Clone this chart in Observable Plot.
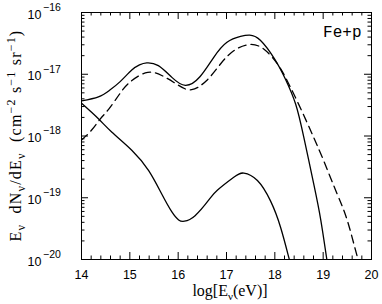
<!DOCTYPE html>
<html>
<head>
<meta charset="utf-8">
<script src="https://cdn.jsdelivr.net/npm/d3@7"></script>
<script src="https://cdn.jsdelivr.net/npm/@observablehq/plot@0.6"></script>
<style>
  html, body { margin: 0; padding: 0; background: #fff; }
</style>
</head>
<body>
<div id="chart"></div>
<script>
// ---- data ----
// upper solid curve (total)
const logE_total = [14.0, 14.35, 14.58, 14.8, 15.04, 15.2, 15.35, 15.59, 15.87, 16.15, 16.45, 16.74, 17.01, 17.29, 17.48, 17.70, 18.0, 18.22, 18.43, 18.60, 18.81, 18.95, 19.08];
const flux_total = [3.7e-18, 4.3e-18, 5.5e-18, 7.6e-18, 1.17e-17, 1.42e-17, 1.53e-17, 1.38e-17, 8.9e-18, 6.6e-18, 9.1e-18, 1.9e-17, 3.3e-17, 4.1e-17, 4.3e-17, 3.55e-17, 1.74e-17, 8.3e-18, 3.3e-18, 9.5e-19, 1.6e-19, 4.4e-20, 9.5e-21];

// dashed curve
const logE_dashed = [14.0, 14.21, 14.39, 14.56, 14.77, 14.97, 15.32, 15.66, 16.01, 16.28, 16.59, 16.88, 17.15, 17.46, 17.77, 18.05, 18.22, 18.46, 18.74, 19.01, 19.29, 19.50, 19.69, 19.76];
const flux_dashed = [8.6e-19, 1.25e-18, 1.9e-18, 2.7e-18, 4.57e-18, 7.08e-18, 1.05e-17, 9.55e-18, 6.6e-18, 5.62e-18, 7.94e-18, 1.48e-17, 2.4e-17, 3.02e-17, 2.57e-17, 1.48e-17, 8.9e-18, 3.7e-18, 1.23e-18, 3.98e-19, 1.15e-19, 4.27e-20, 1.23e-20, 8.5e-21];

// lower solid curve
const logE_lower = [14.0, 14.35, 14.63, 15.04, 15.39, 15.66, 15.87, 16.01, 16.13, 16.35, 16.63, 16.81, 17.15, 17.36, 17.64, 17.91, 18.12, 18.29, 18.32];
const flux_lower = [3.39e-18, 1.9e-18, 1.15e-18, 5.89e-19, 2.75e-19, 1.15e-19, 5.89e-20, 4.37e-20, 4.17e-20, 5.13e-20, 9.12e-20, 1.32e-19, 2.14e-19, 2.51e-19, 1.9e-19, 8.9e-20, 3.3e-20, 1.07e-20, 9e-21];

// ticks
const xMajor = [14, 15, 16, 17, 18, 19, 20];
const xMinor = [14.2, 14.4, 14.6, 14.8, 15.2, 15.4, 15.6, 15.8, 16.2, 16.4, 16.6, 16.8, 17.2, 17.4, 17.6, 17.8, 18.2, 18.4, 18.6, 18.8, 19.2, 19.4, 19.6, 19.8];
const yExponents = [-20, -19, -18, -17, -16];
const yMantissas = [2, 3, 4, 5, 6, 7, 8, 9];
const annotation = "Fe+p";

// ---- build ----
const toRows = (xs, ys) => xs.map((x, i) => ({x, y: ys[i]}));
const total = toRows(logE_total, flux_total);
const dashed = toRows(logE_dashed, flux_dashed);
const lower = toRows(logE_lower, flux_lower);
const yMajor = yExponents.map(e => 10 ** e);
const yMinor = yExponents.slice(0, -1).flatMap(e => yMantissas.map(m => m * 10 ** e));

const W = 382, H = 304, mL = 81, mR = 11, mT = 12, mB = 45;
const innerW = W - mL - mR, innerH = H - mT - mB;
const majorLen = 7, minorLen = 3.5;

const lineStyle = {x: "x", y: "y", curve: "natural", stroke: "#000", strokeWidth: 1.3, clip: true};

const svg = Plot.plot({
  width: W, height: H,
  marginLeft: mL, marginRight: mR, marginTop: mT, marginBottom: mB,
  style: {fontFamily: "'Liberation Sans', Arial, sans-serif", fontSize: "12px", color: "#000", background: "#fff"},
  x: {domain: [14, 20], axis: null},
  y: {type: "log", domain: [1e-20, 1e-16], axis: null},
  marks: [
    Plot.line(total, lineStyle),
    Plot.line(lower, lineStyle),
    Plot.line(dashed, {...lineStyle, strokeDasharray: "8,5"}),
    // ticks (inward, all four sides)
    Plot.tickX(xMajor, {x: d => d, insetTop: innerH - majorLen, stroke: "#000"}),
    Plot.tickX(xMinor, {x: d => d, insetTop: innerH - minorLen, stroke: "#000"}),
    Plot.tickX(xMajor, {x: d => d, insetBottom: innerH - majorLen, stroke: "#000"}),
    Plot.tickX(xMinor, {x: d => d, insetBottom: innerH - minorLen, stroke: "#000"}),
    Plot.tickY(yMajor, {y: d => d, insetRight: innerW - majorLen, stroke: "#000"}),
    Plot.tickY(yMinor, {y: d => d, insetRight: innerW - minorLen, stroke: "#000"}),
    Plot.tickY(yMajor, {y: d => d, insetLeft: innerW - majorLen, stroke: "#000"}),
    Plot.tickY(yMinor, {y: d => d, insetLeft: innerW - minorLen, stroke: "#000"}),
    Plot.frame({stroke: "#000", strokeWidth: 1}),
    // x tick labels
    Plot.text(xMajor, {x: d => d, text: d => String(d), frameAnchor: "bottom", dy: 15, lineAnchor: "middle", fontSize: 12.5, fill: "#000"}),
    // y tick labels: base and exponent
    Plot.text(yExponents, {y: e => 10 ** e, text: () => "10", frameAnchor: "left", textAnchor: "end", dx: -40, dy: 2, lineAnchor: "middle", fontSize: 12.5, fill: "#000"}),
    Plot.text(yExponents, {y: e => 10 ** e, text: e => "\u2212" + Math.abs(e), frameAnchor: "left", textAnchor: "start", dx: -38.5, dy: -5, lineAnchor: "middle", fontSize: 10.5, fill: "#000", style: {letterSpacing: "1.5px"}}),
    // annotation
    Plot.text([annotation], {text: d => d, frameAnchor: "top-right", textAnchor: "end", lineAnchor: "bottom", dx: -10, dy: 24, fontSize: 16, fontFamily: "'Liberation Mono', 'DejaVu Sans Mono', monospace", fill: "#000"})
  ]
});

// axis titles with sub/superscripts
const s = d3.select(svg);
const serif = "'Liberation Serif', 'Times New Roman', serif";

const xl = s.append("text")
  .attr("x", mL + innerW / 2 + 4).attr("y", 296)
  .attr("text-anchor", "middle")
  .attr("font-family", serif).attr("font-size", 16).attr("fill", "#000");
xl.append("tspan").text("log[E");
xl.append("tspan").attr("dy", 4).attr("font-size", 11).text("\u03bd");
xl.append("tspan").attr("dy", -4).text("(eV)]");

const yl = s.append("text")
  .attr("transform", `translate(21,${mT + innerH / 2}) rotate(-90)`)
  .attr("text-anchor", "middle")
  .attr("font-family", serif).attr("font-size", 16).attr("fill", "#000")
  .style("white-space", "pre").style("letter-spacing", "1.2px");
const parts = [
  ["E", 0], ["\u03bd", "sub"], ["  dN", 0], ["\u03bd", "sub"], ["/dE", 0], ["\u03bd", "sub"],
  ["  (cm", 0], ["\u22122", "sup"], [" s", 0], ["\u22121", "sup"], [" sr", 0], ["\u22121", "sup"], [")", 0]
];
let shift = 0;
for (const [t, kind] of parts) {
  const target = kind === "sub" ? 4 : kind === "sup" ? -6 : 0;
  const ts = yl.append("tspan").attr("dy", target - shift).text(t);
  if (kind) ts.attr("font-size", 12);
  shift = target;
}

document.getElementById("chart").appendChild(svg);
</script>
</body>
</html>
